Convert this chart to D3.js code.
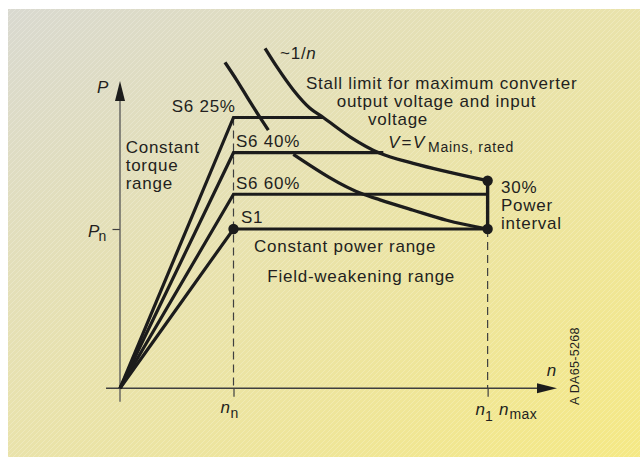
<!DOCTYPE html>
<html>
<head>
<meta charset="utf-8">
<script src="https://cdn.jsdelivr.net/npm/d3@7"></script>
<style>
  html, body { margin: 0; padding: 0; background: #ffffff; }
  svg { display: block; }
  text { font-family: "Liberation Sans", Arial, Helvetica, sans-serif; fill: #231f20; }
</style>
</head>
<body>
<svg id="chart" width="640" height="457"></svg>
<script>
// ---------- data (n in units of n_n, P in units of P_n) ----------
const dutyLabels    = ["S6 25%", "S6 40%", "S6 60%", "S1"];
const dutyPower     = [1.700, 1.479, 1.218, 1.000];
const dutyEndSpeed  = [1.791, 2.320, 3.239, 3.239];

const nRated = 1.0;        // n_n
const nOne   = 3.239;      // n_1 = n_max
const powerIntervalTop = 1.303;

// stall limit curve ~1/n (outer)
const stallN = [1.278, 1.381, 1.527, 1.674, 1.791, 2.026, 2.291, 2.584, 2.878, 3.239];
const stallP = [2.134, 2.019, 1.873, 1.758, 1.700, 1.579, 1.475, 1.412, 1.360, 1.303];

// inner curve (rated voltage), interrupted by the "S6 40%" label
const innerN1 = [0.925, 1.028, 1.145, 1.233, 1.307];
const innerP1 = [2.046, 1.935, 1.799, 1.701, 1.621];
const innerN2 = [1.527, 2.144, 2.291, 2.584, 2.878, 3.239];
const innerP2 = [1.469, 1.218, 1.183, 1.118, 1.055, 1.000];

const xTickValues = [nRated, nOne];
const yTickValues = [1.0];
const axisExtentN = [-0.123, 3.85];
const axisExtentP = [-0.084, 1.929];

// ---------- setup ----------
const svg = d3.select("#chart");
const x = d3.scaleLinear().domain([0, 1]).range([120, 233.5]);
const y = d3.scaleLinear().domain([0, 1]).range([388.3, 229]);

const defs = svg.append("defs");
const grad = defs.append("linearGradient").attr("id", "bg")
  .attr("x1", "0").attr("y1", "0").attr("x2", "1").attr("y2", "1");
grad.append("stop").attr("offset", "0").attr("stop-color", "#d9d9d0");
grad.append("stop").attr("offset", "0.45").attr("stop-color", "#e8e2ae");
grad.append("stop").attr("offset", "1").attr("stop-color", "#f5e985");

const pat = defs.append("pattern").attr("id", "hatch")
  .attr("patternUnits", "userSpaceOnUse").attr("width", 5).attr("height", 5);
pat.append("path").attr("d", "M-1,1 l2,-2 M0,5 l5,-5 M4,6 l2,-2")
  .attr("stroke", "#ffffff").attr("stroke-width", 0.6).attr("opacity", 0.35);

svg.append("rect").attr("x", 8).attr("y", 9).attr("width", 632).attr("height", 448).attr("fill", "url(#bg)");
svg.append("rect").attr("x", 8).attr("y", 9).attr("width", 632).attr("height", 448).attr("fill", "url(#hatch)");

const ink = "#1c1c1c";
const axisCol = "#3f3f3f";

// ---------- dashed verticals ----------
svg.append("line")
  .attr("x1", x(nRated)).attr("x2", x(nRated))
  .attr("y1", y(dutyPower[0])).attr("y2", y(0))
  .attr("stroke", axisCol).attr("stroke-width", 1.2).attr("stroke-dasharray", "8,5");
svg.append("line")
  .attr("x1", x(nOne)).attr("x2", x(nOne))
  .attr("y1", y(dutyPower[3])).attr("y2", y(0))
  .attr("stroke", axisCol).attr("stroke-width", 1.2).attr("stroke-dasharray", "8,5");

// ---------- axes ----------
const xAxis = d3.axisBottom(x).tickValues(xTickValues).tickSize(8.5).tickFormat("");
const gx = svg.append("g").attr("transform", `translate(0,${y(0)})`).call(xAxis);
gx.select(".domain").remove();
gx.selectAll(".tick line").attr("stroke", axisCol).attr("stroke-width", 1.2);

const yAxis = d3.axisLeft(y).tickValues(yTickValues).tickSize(7.5).tickFormat("");
const gy = svg.append("g").attr("transform", `translate(${x(0)},0)`).call(yAxis);
gy.select(".domain").remove();
gy.selectAll(".tick line").attr("stroke", axisCol).attr("stroke-width", 1.2);

svg.append("line")
  .attr("x1", x(axisExtentN[0])).attr("x2", x(axisExtentN[1]) - 15)
  .attr("y1", y(0)).attr("y2", y(0))
  .attr("stroke", axisCol).attr("stroke-width", 1.4);
svg.append("line")
  .attr("x1", x(0)).attr("x2", x(0))
  .attr("y1", y(axisExtentP[0])).attr("y2", y(axisExtentP[1]) + 15)
  .attr("stroke", "#555").attr("stroke-width", 1.3);

// arrow heads
const xe = x(axisExtentN[1]), ye = y(0);
svg.append("path").attr("d", `M${xe},${ye} L${xe - 20},${ye - 5} L${xe - 20},${ye + 5} Z`).attr("fill", ink);
const xt = x(0), yt = y(axisExtentP[1]);
svg.append("path").attr("d", `M${xt},${yt} L${xt - 5},${yt + 20} L${xt + 5},${yt + 20} Z`).attr("fill", ink);

// ---------- duty characteristic lines ----------
const line = d3.line().x(d => x(d[0])).y(d => y(d[1]));
dutyPower.forEach((p, i) => {
  const pts = [[0, 0], [nRated, p], [dutyEndSpeed[i], p]];
  svg.append("path").attr("d", line(pts))
    .attr("fill", "none").attr("stroke", ink).attr("stroke-width", 3.2)
    .attr("stroke-linejoin", "miter");
});

// power interval vertical
svg.append("path").attr("d", line([[nOne, dutyPower[3]], [nOne, powerIntervalTop]]))
  .attr("fill", "none").attr("stroke", ink).attr("stroke-width", 3.4);

// ---------- curves ----------
const curve = d3.line().x(d => x(d[0])).y(d => y(d[1])).curve(d3.curveMonotoneX);
const toPts = (ns, ps) => ns.map((n, i) => [n, ps[i]]);
[[stallN, stallP], [innerN1, innerP1], [innerN2, innerP2]].forEach(([ns, ps]) => {
  svg.append("path").attr("d", curve(toPts(ns, ps)))
    .attr("fill", "none").attr("stroke", ink).attr("stroke-width", 3.3)
    .attr("stroke-linecap", "butt");
});

// ---------- dots ----------
const dots = [[nRated, dutyPower[3]], [nOne, powerIntervalTop], [nOne, dutyPower[3]]];
svg.selectAll("circle.dot").data(dots).join("circle")
  .attr("class", "dot").attr("cx", d => x(d[0])).attr("cy", d => y(d[1])).attr("r", 5.2).attr("fill", ink);

// ---------- texts ----------
const T = (px, py, str, opts = {}) => {
  const t = svg.append("text").attr("x", px).attr("y", py)
    .style("font-size", (opts.size || 17) + "px")
    .style("letter-spacing", (opts.ls != null ? opts.ls : 0.75) + "px");
  if (opts.italic) t.style("font-style", "italic");
  if (opts.anchor) t.attr("text-anchor", opts.anchor);
  if (str != null) t.text(str);
  return t;
};

// duty labels
const dutyLabelPos = [[171.7, 112.3], [236, 147.3], [236, 189.3], [241, 222.7]];
dutyLabels.forEach((s, i) => T(dutyLabelPos[i][0], dutyLabelPos[i][1], s));

T(125.7, 153.3, "Constant");
T(125.7, 171.3, "torque");
T(125.7, 189.3, "range");

T(306, 89.3, "Stall limit for maximum converter");
T(336.7, 107, "output voltage and input");
T(368, 125, "voltage");

// V = V_Mains, rated
T(388.3, 148.3, "V", { italic: true, ls: 0 });
T(401.5, 148.3, "=", { ls: 0 });
T(413, 148.3, "V", { italic: true, ls: 0 });
T(428, 151.5, "Mains, rated", { size: 14 });

// ~1/n
const t1 = T(280, 59.3, null);
t1.append("tspan").text("~1/");
t1.append("tspan").style("font-style", "italic").text("n");

T(501, 192.5, "30%");
T(501, 211, "Power");
T(501, 229.3, "interval");

T(254, 252.3, "Constant power range");
T(267.3, 281.7, "Field-weakening range");

// axis labels
T(97, 93.3, "P", { italic: true, ls: 0 });
T(546.7, 376, "n", { italic: true, ls: 0 });

// P_n
T(88, 236.7, "P", { italic: true, ls: 0 });
T(98.5, 240.5, "n", { size: 14, ls: 0 });

// n_n
T(220.5, 413.3, "n", { italic: true, ls: 0 });
T(230.5, 417.5, "n", { size: 14, ls: 0 });

// n_1 n_max
T(475.5, 414.5, "n", { italic: true, ls: 0 });
T(485, 421, "1", { size: 14, ls: 0 });
T(499, 414.5, "n", { italic: true, ls: 0 });
T(509.5, 418.5, "max", { size: 14, ls: 0.4 });

// rotated drawing code
svg.append("text")
  .attr("transform", "translate(579,405) rotate(-90)")
  .style("font-size", "12.5px").style("letter-spacing", "0.3px")
  .text("A DA65-5268");
</script>
</body>
</html>
